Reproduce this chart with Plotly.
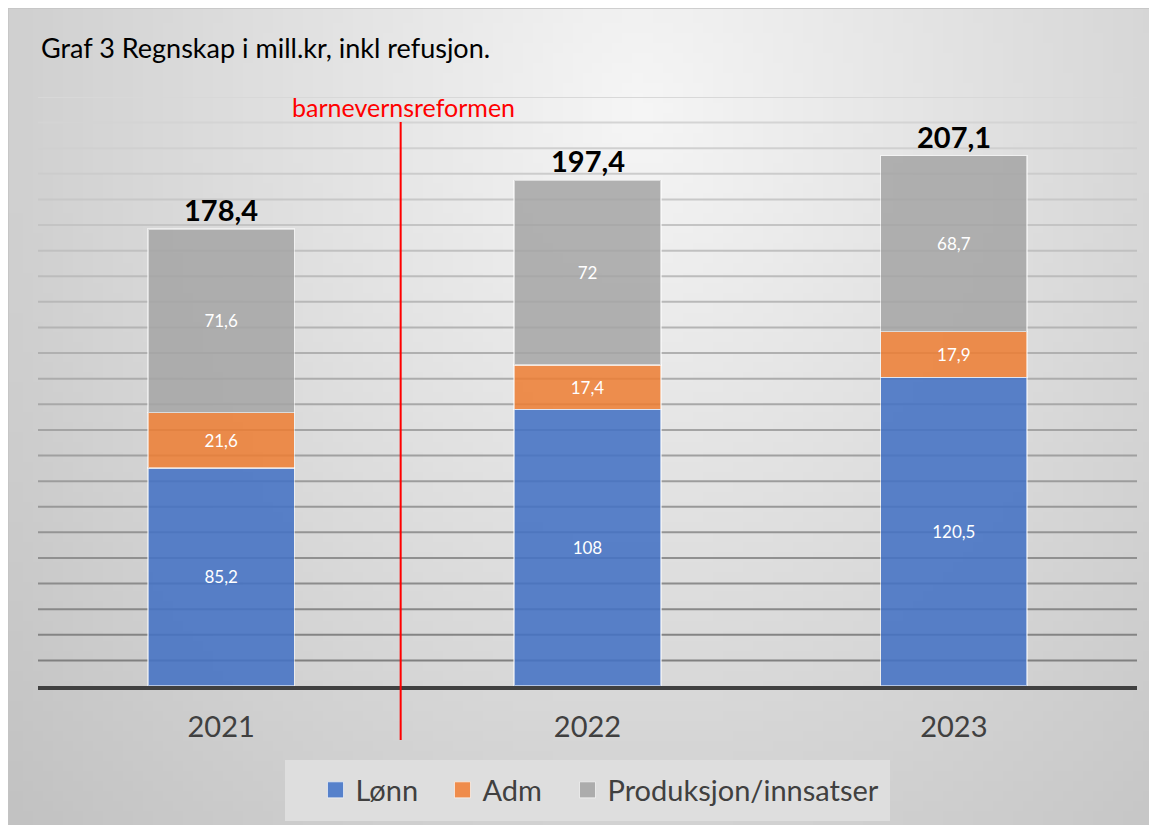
import base64
import math
import struct
import zlib

import plotly.graph_objects as go

# ---------------- data ----------------
years = ["2021", "2022", "2023"]
lonn = [85.2, 108, 120.5]
adm = [21.6, 17.4, 17.9]
produksjon = [71.6, 72, 68.7]
series_names = ["Lønn", "Adm", "Produksjon/innsatser"]
reform_label = "barnevernsreformen"
reform_pos = 0.49  # between 2021 and 2022 on the category axis
title_text = "Graf 3 Regnskap i mill.kr, inkl refusjon."

# page has an 8px body margin, so the figure starts at screen (8, 8)
OFF = 8
W, H = 1149, 817
PX0, PX1 = 38, 1137      # plot area x in screen pixels
PY0, PY1 = 97, 686       # plot area top / bottom in screen pixels
YMAX = 230


def fmt(v):
    s = ("%.1f" % v).rstrip("0").rstrip(".")
    return s.replace(".", ",")


def px_x(p):
    return (p - OFF) / W


def px_y(p):
    return 1 - (p - OFF) / H


# ---------------- background gradient image ----------------
def gradient_png(w, h):
    rows = b""
    for j in range(h):
        row = b"\x00"
        for i in range(w):
            x = OFF + (i + 0.5) * W / w
            y = OFF + (j + 0.5) * H / h
            r = math.sqrt(((x - 640) / 600.0) ** 2 + ((y - 110) / 720.0) ** 2)
            v = int(max(190, min(245, 246 - 36 * r)))
            row += bytes([v])
        rows += row

    def chunk(tag, data):
        c = struct.pack(">I", len(data)) + tag + data
        return c + struct.pack(">I", zlib.crc32(tag + data) & 0xFFFFFFFF)

    png = b"\x89PNG\r\n\x1a\n"
    png += chunk(b"IHDR", struct.pack(">IIBBBBB", w, h, 8, 0, 0, 0, 0))
    png += chunk(b"IDAT", zlib.compress(rows, 9))
    png += chunk(b"IEND", b"")
    return "data:image/png;base64," + base64.b64encode(png).decode()


bg_src = gradient_png(115, 82)

# ---------------- figure ----------------
colors = ["rgba(68,114,196,0.88)", "rgba(237,125,49,0.85)", "rgba(165,165,165,0.85)"]
legend_colors = ["#5681cb", "#ef8c4c", "#acacac"]
legend_widths = [56, 54, None]
fig = go.Figure()
for name, vals, col in zip(series_names, [lonn, adm, produksjon], colors):
    fig.add_trace(go.Bar(
        x=years, y=vals, name=name, showlegend=False,
        marker=dict(color=col, line=dict(color="rgba(255,255,255,0.55)", width=1.5)),
        text=[fmt(v) for v in vals], textposition="inside", insidetextanchor="middle",
        textfont=dict(family="Lato", size=17, color="white"),
        hoverinfo="skip",
    ))
# legend entries with larger square swatches
for name, col, lw in zip(series_names, legend_colors, legend_widths):
    tr = dict(
        x=[None], y=[None], mode="markers", name=name,
        marker=dict(symbol="square", size=17, color=col,
                    line=dict(color="rgba(255,255,255,0.6)", width=1)),
        hoverinfo="skip",
    )
    if lw:
        tr["legendwidth"] = lw
    fig.add_trace(go.Scatter(**tr))

totals = [a + b + c for a, b, c in zip(lonn, adm, produksjon)]
annotations = []
for i, t in enumerate(totals):
    annotations.append(dict(
        x=i, y=t, xref="x", yref="y", text="<b>%s</b>" % fmt(t), showarrow=False,
        yanchor="bottom", yshift=0, font=dict(family="Lato", size=29, color="black"),
    ))

annotations.append(dict(
    x=px_x(39), y=px_y(47), xref="paper", yref="paper", text=title_text,
    showarrow=False, xanchor="left", yanchor="middle",
    font=dict(family="Lato", size=27, color="black"),
))
annotations.append(dict(
    x=reform_pos, y=px_y(107), xref="x", yref="paper", text=reform_label,
    showarrow=False, xanchor="center", yanchor="middle", xshift=3,
    font=dict(family="Lato", size=25, color="#ff0000"),
))

shapes = [
    # frame of chart area
    dict(type="rect", xref="paper", yref="paper", x0=0, x1=1.01, y0=-0.01, y1=1,
         line=dict(color="#c4c4c4", width=1.5), fillcolor="rgba(0,0,0,0)", layer="below"),
]
# gridlines with a vertical tone gradient
for g in range(10, YMAX + 1, 10):
    f = (g - 10) / (YMAX - 10)
    c = int(128 + (216 - 128) * f)
    shapes.append(dict(type="line", xref="paper", yref="y", x0=px_x(PX0), x1=px_x(PX1),
                       y0=g, y1=g, line=dict(color="rgb(%d,%d,%d)" % (c, c, c), width=2),
                       layer="below"))
# reform line
shapes.append(dict(type="line", xref="x", yref="paper", x0=reform_pos, x1=reform_pos,
                   y0=px_y(740), y1=px_y(122), line=dict(color="#ff0000", width=2), layer="above"))

fig.update_layout(
    width=W, height=H,
    margin=dict(l=0, r=0, t=0, b=0),
    paper_bgcolor="#e0e0e0",
    plot_bgcolor="rgba(0,0,0,0)",
    barmode="stack",
    bargap=0.6,
    showlegend=True,
    legend=dict(
        orientation="h", x=px_x(587), xanchor="center", y=px_y(790), yanchor="middle",
        bgcolor="#dedede", bordercolor="#dedede", borderwidth=5, indentation=26,
        font=dict(family="Lato", size=29, color="#404040"),
        traceorder="normal", itemclick=False, itemdoubleclick=False,
    ),
    xaxis=dict(
        domain=[px_x(PX0), px_x(PX1)], range=[-0.5, 2.5], type="category",
        showgrid=False, showline=True, linecolor="#404040", linewidth=4,
        ticks="", tickfont=dict(family="Lato", size=29, color="#404040"),
        ticklabelstandoff=12, fixedrange=True,
    ),
    yaxis=dict(
        domain=[px_y(PY1), px_y(PY0)], range=[0, YMAX], showgrid=False,
        zeroline=False, showticklabels=False, fixedrange=True,
    ),
    images=[dict(source=bg_src, xref="paper", yref="paper", x=0, y=1,
                 sizex=1, sizey=1, xanchor="left", yanchor="top",
                 sizing="stretch", layer="below")],
    shapes=shapes,
    annotations=annotations,
)

fig.write_html("out.html")
